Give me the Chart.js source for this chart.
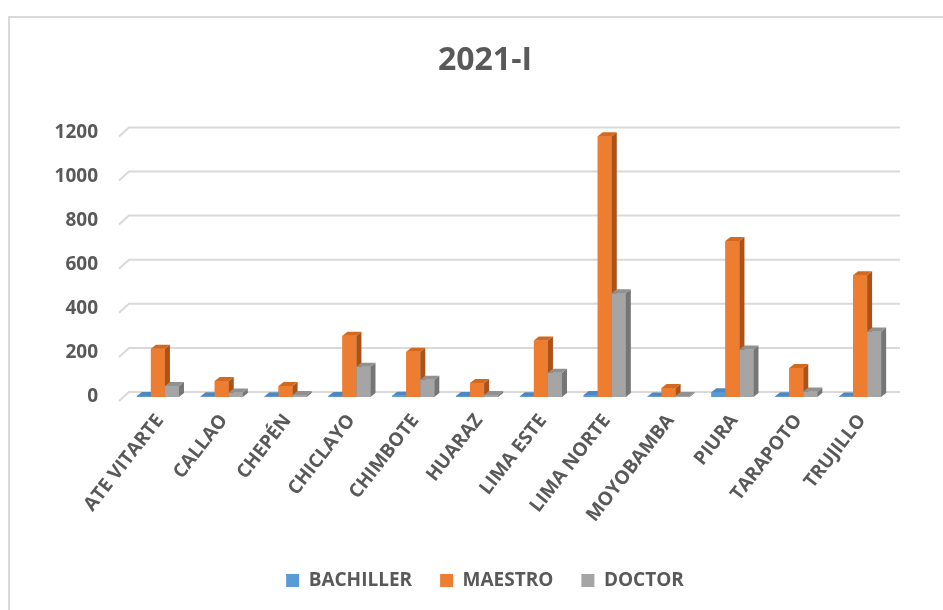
<!DOCTYPE html>
<html>
<head>
<meta charset="utf-8">
<script src="https://cdn.jsdelivr.net/npm/chart.js@4/dist/chart.umd.min.js"></script>
<style>
  html, body { margin: 0; padding: 0; background: #fff; overflow: hidden; }
  #frame {
    position: absolute; left: 8px; top: 16px; width: 1000px; height: 700px;
    border-left: 2px solid #d9d9d9; border-top: 2px solid #d9d9d9;
  }
  #wrap { position: absolute; left: 0; top: 0; width: 970px; height: 610px; }
</style>
</head>
<body>
<div id="frame"></div>
<div id="wrap"><canvas id="chart"></canvas></div>
<script>
const categories = [
  "ATE VITARTE", "CALLAO", "CHEPÉN", "CHICLAYO", "CHIMBOTE", "HUARAZ",
  "LIMA ESTE", "LIMA NORTE", "MOYOBAMBA", "PIURA", "TARAPOTO", "TRUJILLO",
];
const bachiller = [4, 3, 3, 5, 6, 5, 3, 9, 2, 22, 3, 2];
const maestro = [219, 73, 50, 278, 205, 64, 256, 1182, 41, 708, 132, 552];
const doctor = [50, 20, 9, 137, 78, 9, 110, 470, 5, 215, 25, 297];
const yTicks = [0, 200, 400, 600, 800, 1000, 1200];

const textColor = "#595959";
const fontFamily = "'Open Sans', sans-serif";
const front = ["#5b9bd5", "#ed7d31", "#a5a5a5"];
const topFace = ["#4f88bd", "#d2691f", "#919191"];
const sideFace = ["#41719c", "#a9531a", "#767676"];
const dx = 5;
const dy = 4;

// fake 3d: back wall gridlines + side/top faces on each bar
const bar3d = {
  id: "bar3d",
  beforeDatasetsDraw(chart) {
    const { ctx, chartArea, scales } = chart;
    ctx.save();
    ctx.strokeStyle = "#d9d9d9";
    ctx.lineWidth = 2;
    yTicks.forEach((v) => {
      const y = scales.y.getPixelForValue(v);
      ctx.beginPath();
      ctx.moveTo(chartArea.left - 7, y + 4);
      ctx.lineTo(chartArea.left + 3, y - 5);
      ctx.lineTo(chartArea.right + 8, y - 5);
      ctx.stroke();
    });
    ctx.restore();
  },
  afterDatasetsDraw(chart) {
    const { ctx } = chart;
    ctx.save();
    for (let i = 0; i < chart.data.datasets.length; i++) {
      const meta = chart.getDatasetMeta(i);
      meta.data.forEach((bar) => {
        const { x, y, base, width } = bar.getProps(["x", "y", "base", "width"], true);
        const l = x - width / 2;
        const r = x + width / 2;
        ctx.fillStyle = front[i];
        ctx.fillRect(l, y, width, base - y);
        ctx.fillStyle = sideFace[i];
        ctx.beginPath();
        ctx.moveTo(r, y);
        ctx.lineTo(r + dx, y - dy);
        ctx.lineTo(r + dx, base - dy);
        ctx.lineTo(r, base);
        ctx.closePath();
        ctx.fill();
        ctx.fillStyle = topFace[i];
        ctx.beginPath();
        ctx.moveTo(l, y);
        ctx.lineTo(l + dx, y - dy);
        ctx.lineTo(r + dx, y - dy);
        ctx.lineTo(r, y);
        ctx.closePath();
        ctx.fill();
      });
    }
    ctx.restore();
  },
};

new Chart(document.getElementById("chart"), {
  type: "bar",
  data: {
    labels: categories,
    datasets: [
      { label: "BACHILLER", data: bachiller, backgroundColor: front[0] },
      { label: "MAESTRO", data: maestro, backgroundColor: front[1] },
      { label: "DOCTOR", data: doctor, backgroundColor: front[2] },
    ],
  },
  options: {
    responsive: true,
    maintainAspectRatio: false,
    animation: false,
    datasets: {
      bar: { categoryPercentage: 0.66, barPercentage: 1.0 },
    },
    layout: { padding: { left: 0, right: 0, top: 0, bottom: 10 } },
    plugins: {
      title: {
        display: true,
        text: "2021-I",
        color: textColor,
        font: { family: fontFamily, size: 32, weight: "bold" },
        padding: { top: 42, bottom: 52 },
      },
      legend: {
        position: "bottom",
        labels: {
          color: textColor,
          font: { family: fontFamily, size: 19, weight: "bold" },
          boxWidth: 13,
          boxHeight: 13,
          padding: 28,
        },
      },
      tooltip: { enabled: false },
    },
    scales: {
      y: {
        min: 0,
        max: 1200,
        afterFit: (scale) => { scale.width = 126; },
        ticks: {
          stepSize: 200,
          padding: 28,
          color: textColor,
          font: { family: fontFamily, size: 19, weight: "bold" },
          callback: (v) => String(v),
        },
        grid: { display: false, drawTicks: false },
        border: { display: false },
      },
      // empty spacer on the right so title/legend stay centred on the frame
      yr: {
        position: "right",
        min: 0,
        max: 1200,
        afterFit: (scale) => { scale.width = 78; },
        ticks: { display: false },
        grid: { display: false, drawTicks: false },
        border: { display: false },
      },
      x: {
        afterFit: (scale) => { scale.height = 146; },
        ticks: {
          minRotation: 52,
          maxRotation: 52,
          autoSkip: false,
          padding: 13,
          labelOffset: 2,
          color: textColor,
          font: { family: fontFamily, size: 19, weight: "bold" },
        },
        grid: { display: false, drawTicks: false },
        border: { display: false },
      },
    },
  },
  plugins: [bar3d],
});
</script>
</body>
</html>
